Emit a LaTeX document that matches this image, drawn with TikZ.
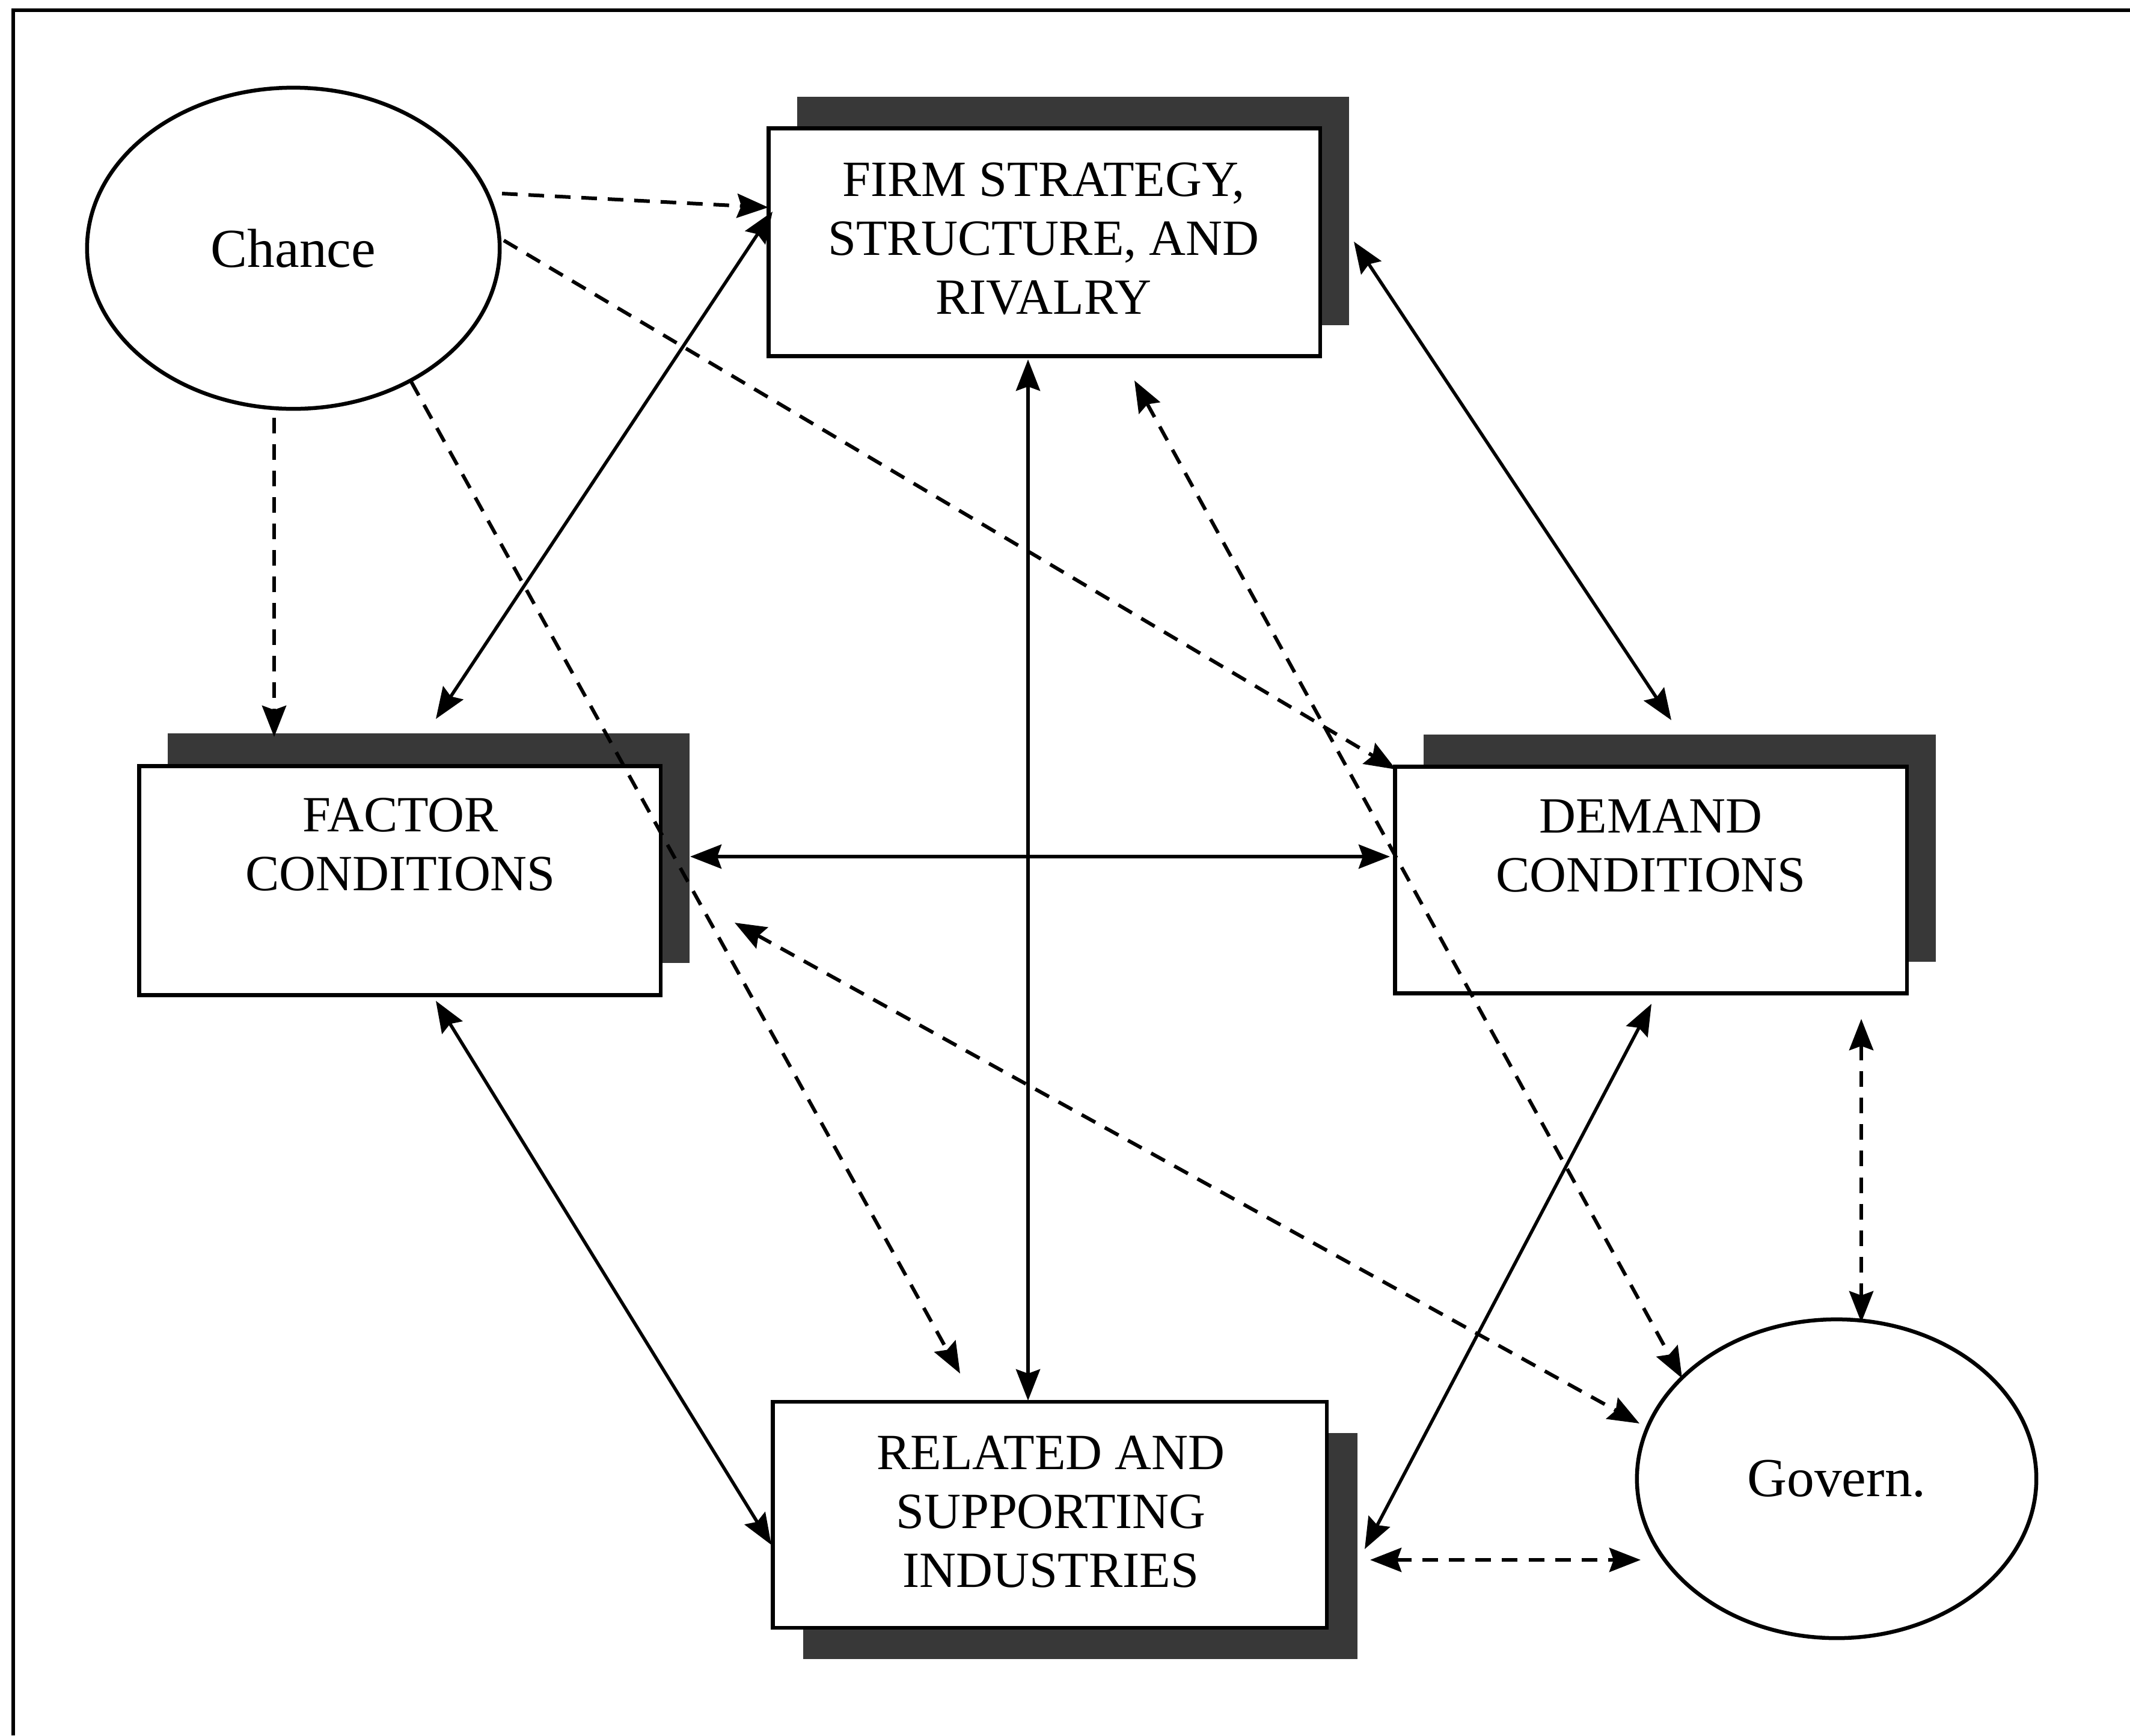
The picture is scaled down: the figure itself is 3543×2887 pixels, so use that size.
\documentclass[tikz,border=0pt]{standalone}
\usepackage{fontspec}
\setmainfont{Liberation Serif}
\usetikzlibrary{arrows.meta,shapes.geometric}
\begin{document}
\begin{tikzpicture}[x=0.01cm,y=-0.01cm,
  shadowbox/.style={fill=black!78,draw=none,inner sep=0pt},
  frontbox/.style={draw=black,line width=0.065cm,fill=white,inner sep=0pt},
  oval/.style={ellipse,draw=black,line width=0.065cm,inner sep=0pt,font=\fontsize{26}{30}\selectfont},
  boxtext/.style={align=center,inner sep=0pt,font=\fontsize{24}{27.9}\selectfont},
  hd/.style={},
  link/.style={line width=0.055cm,{Stealth[length=0.52cm,width=0.40cm,inset=0.07cm]}-{Stealth[length=0.52cm,width=0.40cm,inset=0.07cm]}},
  dlink/.style={line width=0.06cm,dash pattern=on 0.26cm off 0.18cm},
  oneway/.style={dlink,-{Stealth[length=0.52cm,width=0.40cm,inset=0.07cm]}},
  twoway/.style={dlink,{Stealth[length=0.52cm,width=0.40cm,inset=0.07cm]}-{Stealth[length=0.52cm,width=0.40cm,inset=0.07cm]}},
  frameline/.style={line width=0.065cm}]
\useasboundingbox (0,0) rectangle (3543,2887);
% outer frame (top and left edges only)
\coordinate (ftl) at (22,17);
\coordinate (ftr) at (3543,17);
\coordinate (fbl) at (22,2887);
\draw[frameline] (fbl) -- (ftl) -- (ftr);

% boxes with shadows
\node[shadowbox,minimum width=9.17cm,minimum height=3.79cm] (firmsh) at (1785,351) {};
\node[frontbox,minimum width=9.17cm,minimum height=3.79cm] (firm) at (1737,403) {};
\node[boxtext] (firmtext) at (1736,397) {FIRM STRATEGY,\\STRUCTURE, AND\\RIVALRY};

\node[shadowbox,minimum width=8.67cm,minimum height=3.81cm] (factorsh) at (713,1411) {};
\node[frontbox,minimum width=8.67cm,minimum height=3.81cm] (factor) at (665,1465) {};
\node[boxtext] (factortext) at (666,1405) {FACTOR\\CONDITIONS};

\node[shadowbox,minimum width=8.51cm,minimum height=3.77cm] (demandsh) at (2794,1411) {};
\node[frontbox,minimum width=8.51cm,minimum height=3.77cm] (demand) at (2746,1464) {};
\node[boxtext] (demandtext) at (2746,1407) {DEMAND\\CONDITIONS};

\node[shadowbox,minimum width=9.21cm,minimum height=3.76cm] (relatedsh) at (1797,2572) {};
\node[frontbox,minimum width=9.21cm,minimum height=3.76cm] (related) at (1746,2520) {};
\node[boxtext] (relatedtext) at (1748,2515) {RELATED AND\\SUPPORTING\\INDUSTRIES};

% ellipses
\node[oval,minimum width=6.86cm,minimum height=5.34cm] (chance) at (488,413) {Chance};
\node[oval,minimum width=6.64cm,minimum height=5.30cm] (govern) at (3055,2460) {Govern.};

% connector end points
\coordinate (a1) at (1285,352);  \coordinate (a2) at (725,1196);
\coordinate (b1) at (2252,402);  \coordinate (b2) at (2780,1198);
\coordinate (c1) at (1710,598);  \coordinate (c2) at (1710,2330);
\coordinate (d1) at (1148,1425); \coordinate (d2) at (2312,1425);
\coordinate (e1) at (725,1665);  \coordinate (e2) at (1283,2570);
\coordinate (f1) at (2747,1670); \coordinate (f2) at (2270,2577);

\coordinate (g1) at (835,322);   \coordinate (g2) at (1278,345);
\coordinate (h1) at (838,400);   \coordinate (h2) at (2322,1280);
\coordinate (i1) at (456,695);   \coordinate (i2) at (456,1226);
\coordinate (j1) at (684,635);   \coordinate (j2) at (1597,2285);
\coordinate (k1) at (1887,633);  \coordinate (k2) at (2798,2293);
\coordinate (l1) at (1222,1535); \coordinate (l2) at (2727,2368);
\coordinate (m1) at (3096,1695); \coordinate (m2) at (3096,2200);
\coordinate (n1) at (2279,2595); \coordinate (n2) at (2729,2595);

% solid two-way links
\draw[link] (a1) -- (a2);
\draw[link] (b1) -- (b2);
\draw[link] (c1) -- (c2);
\draw[link] (d1) -- (d2);
\draw[link] (e1) -- (e2);
\draw[link] (f1) -- (f2);

% dashed links from Chance
\draw[oneway] (g1) -- (g2);
\draw[oneway] (h1) -- (h2);
\draw[oneway] (i1) -- (i2);
\draw[oneway] (j1) -- (j2);

% dashed two-way links with Government
\draw[twoway] (k1) -- (k2);
\draw[twoway] (l1) -- (l2);
\draw[twoway] (m1) -- (m2);
\draw[twoway] (n1) -- (n2);
\end{tikzpicture}
\end{document}
